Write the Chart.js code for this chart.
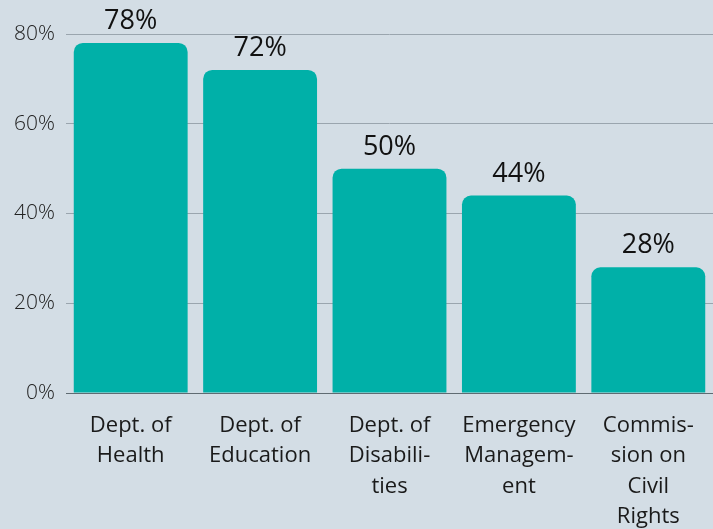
<!DOCTYPE html>
<html>
<head>
<meta charset="utf-8">
<script src="https://cdn.jsdelivr.net/npm/chart.js@4"></script>
<style>
  html, body { margin: 0; padding: 0; background: #d3dde5; overflow: hidden; }
  #grafico { display: block; }
</style>
</head>
<body>
<canvas id="grafico" width="713" height="529"></canvas>
<script>
// dados do grafico
var categorias = [
  ["Dept. of", "Health"],
  ["Dept. of", "Education"],
  ["Dept. of", "Disabili-", "ties"],
  ["Emergency", "Managem-", "ent"],
  ["Commis-", "sion on", "Civil", "Rights"]
];
var valores = [78, 72, 50, 44, 28];
var ticksY = [0, 20, 40, 60, 80];

// rotulos em cima das barras
var rotulosBarras = {
  id: 'rotulosBarras',
  afterDatasetsDraw(chart) {
    var ctx = chart.ctx;
    var meta = chart.getDatasetMeta(0);
    ctx.save();
    ctx.font = '27px "Open Sans", sans-serif';
    ctx.fillStyle = '#111';
    ctx.textAlign = 'center';
    ctx.textBaseline = 'alphabetic';
    meta.data.forEach(function (bar, i) {
      ctx.fillText(valores[i] + '%', bar.x, bar.y - 14);
    });
    ctx.restore();
  }
};

var config = {
  type: 'bar',
  data: {
    labels: categorias,
    datasets: [{
      data: valores,
      backgroundColor: '#00b0a8',
      borderRadius: 9,
      borderSkipped: 'bottom',
      barPercentage: 0.88,
      categoryPercentage: 1
    }]
  },
  options: {
    responsive: false,
    animation: false,
    layout: { padding: { top: 34, right: 0, left: 0, bottom: 0 } },
    plugins: {
      legend: { display: false },
      tooltip: { enabled: false }
    },
    scales: {
      x: {
        grid: { display: false },
        border: { display: true, color: '#5f6b72', width: 1 },
        ticks: {
          color: '#1a1a1a',
          font: { family: '"Open Sans"', size: 22, lineHeight: 1.39 },
          padding: 9,
          maxRotation: 0,
          autoSkip: false
        },
        afterFit: function (s) { s.height = 136; }
      },
      y: {
        min: 0,
        max: 80,
        afterBuildTicks: function (s) {
          s.ticks = ticksY.map(function (v) { return { value: v }; });
        },
        grid: { color: '#9aa5ae', drawTicks: false },
        border: { display: false },
        ticks: {
          color: '#222',
          font: { family: '"Open Sans"', size: 21, weight: 300 },
          padding: 11,
          callback: function (v) { return v + '%'; }
        },
        afterFit: function (s) { s.width = 66; }
      }
    }
  },
  plugins: [rotulosBarras]
};

window.myChart = new Chart(document.getElementById('grafico'), config);
</script>
</body>
</html>
